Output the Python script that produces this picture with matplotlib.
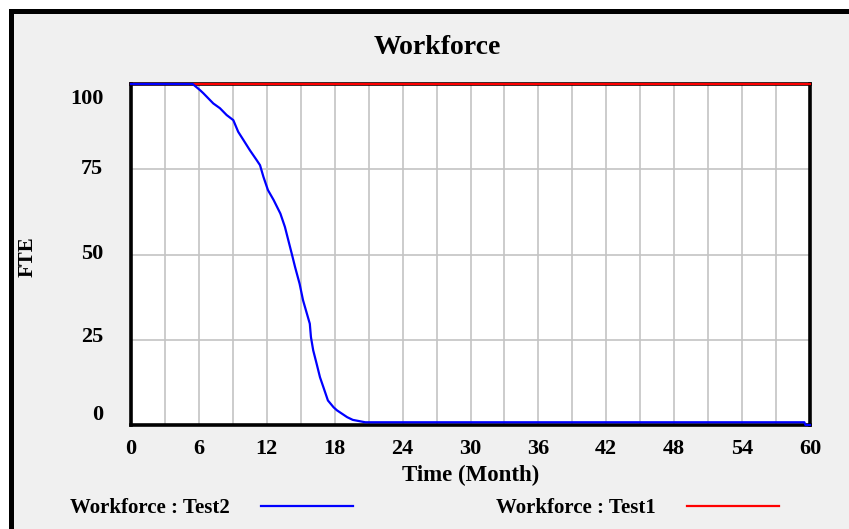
import matplotlib
matplotlib.use('Agg')
import matplotlib.pyplot as plt
from matplotlib.patches import Rectangle
from matplotlib.transforms import ScaledTranslation

# Workforce (FTE) over time
months_test2 = [0, 5.45, 6.1, 6.39, 7.27, 7.86, 8.45, 9.04, 9.47, 9.93, 10.5, 11.1, 11.4,
                11.7, 12.1, 12.6, 13.2, 13.6, 13.9, 14.2, 14.5, 14.9, 15.2, 15.8, 15.9,
                16.1, 16.4, 16.7, 17.0, 17.4, 17.9, 18.2, 19.1, 19.6, 20.7, 59.5, 59.6, 60]
fte_test2 = [100, 100, 98.2, 97.3, 94.3, 92.9, 90.9, 89.4, 86.0, 83.6, 80.6, 77.7, 76.2,
             72.8, 68.9, 66.0, 62.0, 58.1, 54.2, 50.3, 46.3, 41.4, 36.6, 29.7, 25.8,
             21.9, 18.0, 14.0, 11.1, 7.2, 5.2, 4.3, 2.3, 1.5, 0.8, 0.8, 0, 0]
months_test1 = [0, 60]
fte_test1 = [100, 100]

x_ticks = list(range(0, 61, 6))
y_ticks = [0, 25, 50, 75, 100]
# Vensim nudges its y labels off the grid lines (pixels, + = down)
y_label_shift = {0: -12, 25: -5, 50: -3, 75: -3, 100: 13}

font = ['Liberation Serif', 'DejaVu Serif']
plt.rcParams['font.family'] = font
plt.rcParams['font.weight'] = 'bold'

fig = plt.figure(figsize=(8.49, 5.29), dpi=100, facecolor='white')
# grey panel with thick black border, running off the right/bottom of the image
fig.add_artist(Rectangle((10.5 / 849, -0.2), 1.5, 1.2 - 10.5 / 529,
                         transform=fig.transFigure, facecolor='#f0f0f0',
                         edgecolor='black', linewidth=3.6, zorder=-10))

ax = fig.add_axes([131 / 849, 1 - 425 / 529, 679 / 849, 341 / 529])
ax.set_facecolor('white')

ax.plot(months_test1, fte_test1, color='#ff0000', linewidth=1.6,
        label='Workforce : Test1', clip_on=False, zorder=5)
ax.plot(months_test2, fte_test2, color='#0000ff', linewidth=1.6,
        label='Workforce : Test2', clip_on=False, zorder=6)

ax.set_xlim(0, 60)
ax.set_ylim(0, 100)
ax.set_xticks(x_ticks)
ax.set_xticks(range(0, 61, 3), minor=True)
ax.set_yticks(y_ticks)
ax.grid(True, which='both', color='#c4c4c4', linewidth=1.2)
ax.set_axisbelow(True)
ax.tick_params(which='both', length=0)
ax.tick_params(axis='x', labelsize=16, pad=10)
ax.tick_params(axis='y', labelsize=16, pad=20)

for sp in ax.spines.values():
    sp.set_linewidth(2.6)
    sp.set_color('black')
    sp.set_zorder(4)

for tick, val in zip(ax.yaxis.get_major_ticks(), y_ticks):
    lbl = tick.label1
    lbl.set_transform(lbl.get_transform() +
                      ScaledTranslation(0, -y_label_shift[val] / 100, fig.dpi_scale_trans))

fig.text(437 / 849, 1 - 47 / 529, 'Workforce', ha='center', va='center',
         fontsize=20, fontweight='bold')
ax.set_xlabel('Time (Month)', fontsize=16.5, fontweight='bold', labelpad=4)
fig.text(28 / 849, 1 - 257 / 529, 'FTE', rotation=90, ha='center', va='center',
         fontsize=15, fontweight='bold')

handles, labels = ax.get_legend_handles_labels()
fig.legend(handles[::-1], labels[::-1], loc='center left',
           bbox_to_anchor=(70 / 849, 1 - 508 / 529), ncol=2, frameon=False,
           markerfirst=False, fontsize=15, borderpad=0, borderaxespad=0,
           handlelength=4.4, handletextpad=1.5, columnspacing=6.9)

fig.savefig('out.png', dpi=100, facecolor=fig.get_facecolor())
